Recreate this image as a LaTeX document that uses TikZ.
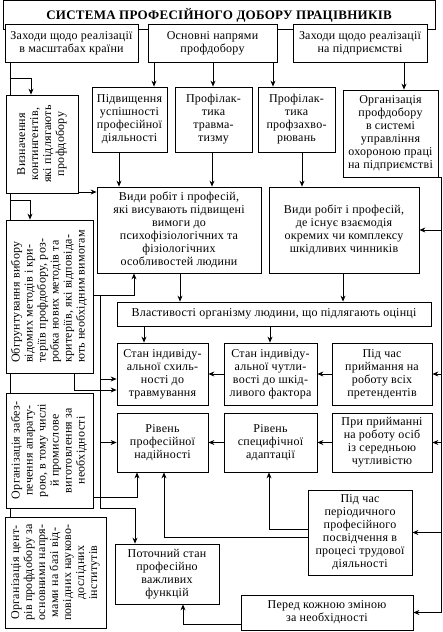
\documentclass[tikz,border=0pt]{standalone}
\usepackage{graphicx}
\usepackage{fontspec}
\setmainfont[LetterSpace=2]{Liberation Serif}
\usetikzlibrary{arrows.meta}
\newcommand{\uptext}[2][c]{\rotatebox{90}{\begin{tabular}{@{}#1@{}}#2\end{tabular}}}
\begin{document}
\begin{tikzpicture}[
  x=1pt, y=-1pt,
  box/.style={draw, fill=white, line width=0.8pt, align=center, inner sep=1pt,
    font=\fontsize{12}{13}\selectfont},
  sz/.style 2 args={minimum width=#1pt, minimum height=#2pt},
  ln/.style={line width=0.8pt},
  arr/.style={ln, -{Stealth[length=6pt, width=5pt, inset=2pt]}},
]
  \useasboundingbox (0,0) rectangle (443,632);
  \node[box, sz={432}{29}, font=\fontsize{13}{14}\selectfont\bfseries] (title) at (219,15)
    {СИСТЕМА ПРОФЕСІЙНОГО ДОБОРУ ПРАЦІВНИКІВ};
  \node[box, sz={133}{38}] (natl) at (71.5,43) {Заходи щодо реалізації\\в масштабах країни};
  \node[box, sz={129}{38}] (dirs) at (212.5,43) {Основні напрями\\профдобору};
  \node[box, sz={134}{38}] (ent) at (360,43) {Заходи щодо реалізації\\на підприємстві};

  \node[box, sz={75}{65}] (succ) at (129.5,119.5) {Підвищення\\успішності\\професійної\\діяльності};
  \node[box, sz={77}{65}] (injury) at (213.5,119.5) {Профілак-\\тика\\травма-\\тизму};
  \node[box, sz={77}{65}] (disease) at (296.5,119.5) {Профілак-\\тика\\профзахво-\\рювань};
  \node[box, sz={95}{87}] (ohs) at (390.5,133.5)
    {Організація\\профдобору\\в системі\\управління\\охороною праці\\на підприємстві};

  \node[box, sz={72}{98}] (contg) at (42,144)
    {\uptext{Визначення\\контингентів,\\які підлягають\\профдобору}};
  \node[box, sz={87}{153}] (justif) at (49.5,296.5)
    {\uptext[l]{Обгрунтування вибору\\відомих методів і кри-\\теріїв профдобору, роз-\\робка нових методів та\\критеріїв, які відповіда-\\ють необхідним вимогам}};
  \node[box, sz={87}{115}] (equip) at (49.5,450.5)
    {\uptext{Організація забез-\\печення апарату-\\рою, в тому числі\\й промислове\\виготовлення за\\необхідності}};
  \node[box, sz={101}{111}] (centres) at (55.5,572.5)
    {\uptext{Організація цент-\\рів профдобору за\\основними напря-\\мами на базі від-\\повідних науково-\\дослідних\\інститутів}};

  \node[box, sz={164}{86}] (highreq) at (179,230)
    {Види робіт і професій,\\які висувають підвищені\\вимоги до\\психофізіологічних та\\фізіологічних\\особливостей людини};
  \node[box, sz={150}{86}] (harm) at (344,230)
    {Види робіт і професій,\\де існує взаємодія\\окремих чи комплексу\\шкідливих чинників};
  \node[box, sz={314}{24}] (props) at (274,314) {Властивості організму людини, що підлягають оцінці};

  \node[box, sz={91}{62}] (suscept) at (162.5,374) {Стан індивіду-\\альної схиль-\\ності до\\травмування};
  \node[box, sz={93}{62}] (sensit) at (270.5,374) {Стан індивіду-\\альної чутли-\\вості до шкід-\\ливого фактора};
  \node[box, sz={100}{62}] (hireall) at (382,374) {Під час\\приймання на\\роботу всіх\\претендентів};
  \node[box, sz={91}{59}] (reliab) at (162.5,442.5) {Рівень\\професійної\\надійності};
  \node[box, sz={93}{59}] (adapt) at (270.5,442.5) {Рівень\\специфічної\\адаптації};
  \node[box, sz={100}{59}] (hiremid) at (382,442.5) {При прийманні\\на роботу осіб\\із середньою\\чутливістю};

  \node[box, sz={104}{60}] (current) at (167,574) {Поточний стан\\професійно\\важливих\\функцій};
  \node[box, sz={104}{85}] (period) at (360,532.5)
    {Під час\\періодичного\\професійного\\посвідчення в\\процесі трудової\\діяльності};
  \node[box, sz={172}{35}] (shift) at (327,612.5) {Перед кожною зміною\\за необхідності};

  % left spine
  \draw[ln] (natl.south -| 10,0) -- (contg.north -| 10,0);
  \draw[ln] (contg.south -| 10,0) -- (justif.north -| 10,0);
  \draw[ln] (justif.south -| 10,0) -- (equip.north -| 10,0);
  \draw[ln] (equip.south -| 10,0) -- (centres.north -| 10,0);
  \draw[arr] (natl.south -| 10,0) |- (31,78) -- (contg.north -| 31,0);
  \draw[arr] (contg.south -| 10,0) |- (30,200) -- (justif.north -| 30,0);

  \draw[arr] (dirs.south -| 154,0) -- (succ.north -| 154,0);
  \draw[arr] (dirs.south -| 213,0) -- (injury.north -| 213,0);
  \draw[arr] (dirs.south -| 273,0) -- (disease.north -| 273,0);
  \draw[arr] (ent.south -| 404,0) -- (ohs.north -| 404,0);

  \draw[arr] (succ.south -| 119,0) -- (highreq.north -| 119,0);
  \draw[arr] (injury.south -| 212,0) -- (highreq.north -| 212,0);
  \draw[arr] (disease.south -| 302,0) -- (harm.north -| 302,0);
  \draw[arr] (contg.east |- 0,192) -- (highreq.west |- 0,192);

  \draw[arr] (highreq.south -| 180,0) -- (props.north -| 180,0);
  \draw[arr] (harm.south -| 343,0) -- (props.north -| 343,0);
  \draw[arr] (props.south -| 144,0) -- (suscept.north -| 144,0);
  \draw[arr] (props.south -| 270,0) -- (sensit.north -| 270,0);

  \draw[arr] (hireall) -- (sensit);
  \draw[arr] (sensit) -- (suscept);
  \draw[arr] (hiremid) -- (adapt);
  \draw[arr] (adapt) -- (reliab);

  % middle trunk
  \coordinate (trunk) at (100,295);
  \draw[arr] (justif.east |- trunk) -| (highreq.south -| 134,0);
  \draw[arr] (trunk) |- (135,508) -- (current.north -| 135,0);
  \draw[arr] (trunk |- 0,379) -- (suscept.west |- 0,379);
  \draw[arr] (trunk |- reliab.west) -- (reliab.west);
  \draw[arr] (justif.south -| 74,0) |- (suscept.west |- 0,390);
  \draw[arr] (equip.east |- 0,497) -| (reliab.south -| 137,0);

  \draw[arr] (period.west |- 0,529) -| (adapt.south -| 269,0);
  \draw[arr] (period.west |- 0,537) -| (reliab.south -| 164,0);
  \draw[arr] (shift.west |- 0,624) -| (current.south -| 183,0);

  % right spine
  \coordinate (rs) at (441,0);
  \draw[ln] (ohs.south east) -| (shift.east -| rs);
  \draw[arr] (harm.east -| rs) -- (harm.east);
  \draw[arr] (hireall.east -| rs) -- (hireall.east);
  \draw[arr] (hiremid.east -| rs) -- (hiremid.east);
  \draw[arr] (period.east -| rs) -- (period.east);
  \draw[arr] (shift.east -| rs) -- (shift.east);
\end{tikzpicture}
\end{document}
